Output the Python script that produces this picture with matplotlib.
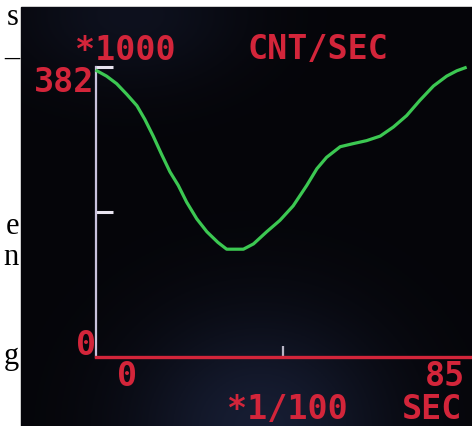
import numpy as np
import matplotlib.pyplot as plt
from matplotlib.patches import Rectangle

# curve: time (*1/100 sec) vs rate (*1000 cnt/sec)
tiempo = [0.2, 2.4, 4.7, 7.0, 9.3, 11.1, 13.0, 14.9, 16.8, 18.7, 20.6, 22.9,
          25.2, 27.7, 29.7, 33.5, 35.8, 38.8, 41.8, 44.8, 47.9, 50.2, 52.4,
          55.5, 58.4, 61.5, 64.6, 67.6, 70.6, 73.6, 76.7, 79.7, 82.0, 83.9]
cuentas = [377, 370, 360, 346, 331, 313, 291, 267, 244, 226, 204, 182,
           165, 151, 142, 142, 149, 165, 180, 199, 226, 248, 263,
           277, 281, 285, 291, 303, 318, 338, 357, 370, 377, 381]

y_ticks = [191, 382]
x_ticks = [42.5]

W, H = 472, 427
rojo = '#d3253a'
verde = '#3cc852'
fuente = 'DejaVu Sans Mono'

fig = plt.figure(figsize=(W / 100, H / 100), dpi=100)
fig.patch.set_facecolor('white')

# fondo en coordenadas de pixel
bg = fig.add_axes([0, 0, 1, 1])
bg.axis('off')

# texto cortado del documento a la izquierda
for letra, yy in [('s', 25), ('–', 66), ('e', 234), ('n', 265), ('g', 364)]:
    bg.text(19, yy, letra, fontsize=22, family='Liberation Serif', color='black',
            ha='right', va='baseline', zorder=1)

# pantalla negra con un poco de brillo azul
gx, gy = np.meshgrid(np.linspace(21, W, 200), np.linspace(8, H, 200))
glow = np.exp(-((gx - 260) ** 2 / (2 * 90 ** 2) + (gy - 430) ** 2 / (2 * 80 ** 2)))
glow2 = np.exp(-((gx - 130) ** 2 / (2 * 80 ** 2) + (gy - 15) ** 2 / (2 * 50 ** 2)))
img = np.zeros(gx.shape + (3,))
base = np.array([5, 5, 9]) / 255
tinte = np.array([22, 30, 52]) / 255
for c in range(3):
    img[..., c] = base[c] + tinte[c] * (0.8 * glow + 0.4 * glow2)
bg.add_patch(Rectangle((21, 8), W - 21, H - 8, color='black', zorder=2))
bg.imshow(img, extent=(21, W, H, 8), zorder=3, aspect='auto')
bg.set_xlim(0, W)
bg.set_ylim(H, 0)

# textos rojos de la pantalla
txt = dict(family=fuente, fontweight='bold', fontsize=24, color=rojo, va='center', zorder=5)
bg.text(75, 50, '*1000', ha='left', **txt)
bg.text(247, 50, 'CNT/SEC', ha='left', **txt)
bg.text(94, 83, '382', ha='right', **txt)
bg.text(96, 346, '0', ha='right', **txt)
bg.text(127, 377, '0', ha='center', **txt)
bg.text(465, 377, '85', ha='right', **txt)
bg.text(227, 410, '*1/100', ha='left', **txt)
bg.text(462, 410, 'SEC', ha='right', **txt)

# ejes del grafico
ax = fig.add_axes([96 / W, (H - 358) / H, 374 / W, 290 / H])
ax.patch.set_alpha(0)
ax.set_xlim(0, 85)
ax.set_ylim(0, 382)
for lado in ['top', 'right']:
    ax.spines[lado].set_visible(False)
ax.spines['left'].set_color('#c9c2dc')
ax.spines['left'].set_linewidth(1.6)
ax.spines['bottom'].set_color(rojo)
ax.spines['bottom'].set_linewidth(2.4)

ax.set_yticks(y_ticks)
ax.set_xticks(x_ticks)
ax.tick_params(axis='y', direction='in', length=12, width=2.2, color='#e8e4f0', labelleft=False)
ax.tick_params(axis='x', direction='in', length=8, width=1.6, color='#b8b4c4', labelbottom=False)

ax.plot(tiempo, cuentas, color=verde, lw=2.3, clip_on=False, zorder=3,
        solid_joinstyle='round')

fig.savefig('out.png', dpi=100, facecolor=fig.get_facecolor())
